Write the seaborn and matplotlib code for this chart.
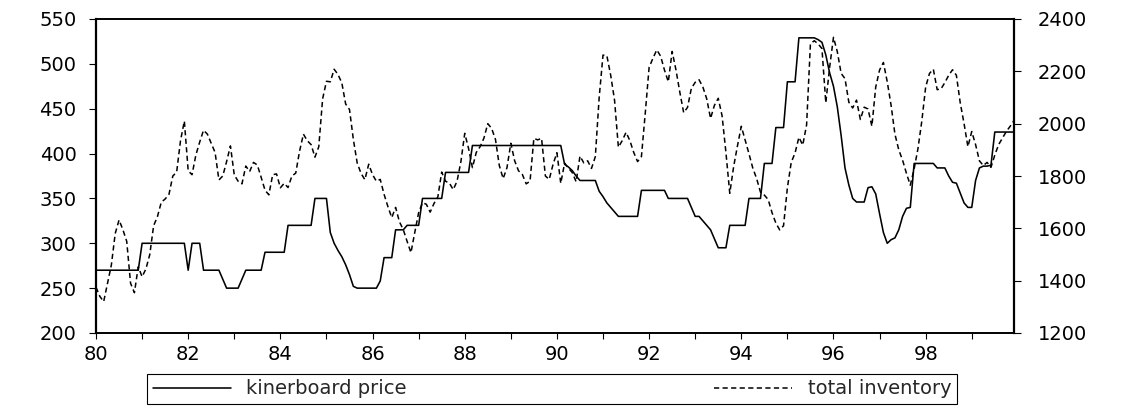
import numpy as np
import pandas as pd
import matplotlib
matplotlib.use("Agg")
import matplotlib.pyplot as plt
import seaborn as sns

# Monthly observations, 1980:01 - 1999:12
start_year = 1980

kinerboard_price = [
    270, 270, 270, 270, 270, 270, 270, 270, 270, 270, 270, 270,   # 1980
    300, 300, 300, 300, 300, 300, 300, 300, 300, 300, 300, 300,   # 1981
    270, 300, 300, 300, 270, 270, 270, 270, 270, 260, 250, 250,   # 1982
    250, 250, 260, 270, 270, 270, 270, 270, 290, 290, 290, 290,   # 1983
    290, 290, 320, 320, 320, 320, 320, 320, 320, 350, 350, 350,   # 1984
    350, 312, 300, 292, 285, 276, 265, 252, 250, 250, 250, 250,   # 1985
    250, 250, 258, 284, 284, 284, 315, 315, 315, 320, 320, 320,   # 1986
    320, 350, 350, 350, 350, 350, 350, 379, 379, 379, 379, 379,   # 1987
    379, 379, 409, 409, 409, 409, 409, 409, 409, 409, 409, 409,   # 1988
    409, 409, 409, 409, 409, 409, 409, 409, 409, 409, 409, 409,   # 1989
    409, 409, 388, 385, 381, 375, 370, 370, 370, 370, 370, 358,   # 1990
    352, 345, 340, 335, 330, 330, 330, 330, 330, 330, 359, 359,   # 1991
    359, 359, 359, 359, 359, 350, 350, 350, 350, 350, 350, 340,   # 1992
    330, 330, 325, 320, 315, 305, 295, 295, 295, 320, 320, 320,   # 1993
    320, 320, 350, 350, 350, 350, 389, 389, 389, 429, 429, 429,   # 1994
    480, 480, 480, 529, 529, 529, 529, 529, 527, 524, 510, 490,   # 1995
    475, 452, 420, 384, 365, 350, 346, 346, 346, 362, 363, 355,   # 1996
    333, 312, 300, 304, 306, 315, 330, 339, 340, 389, 389, 389,   # 1997
    389, 389, 389, 384, 384, 384, 375, 368, 367, 356, 345, 340,   # 1998
    340, 370, 384, 386, 386, 387, 424, 424, 424, 424, 424, 424,   # 1999
]

total_inventory = [
    1375, 1340, 1320, 1390, 1460, 1580, 1632, 1595, 1550, 1390, 1354, 1453,   # 1980
    1415, 1445, 1500, 1610, 1645, 1700, 1712, 1730, 1800, 1815, 1935, 2010,   # 1981
    1820, 1805, 1880, 1930, 1975, 1960, 1925, 1890, 1785, 1800, 1855, 1915,   # 1982
    1804, 1780, 1770, 1838, 1817, 1852, 1842, 1795, 1746, 1728, 1805, 1808,   # 1983
    1755, 1772, 1756, 1800, 1811, 1895, 1960, 1935, 1920, 1872, 1912, 2095,   # 1984
    2162, 2160, 2208, 2188, 2156, 2075, 2054, 1940, 1850, 1810, 1786, 1845,   # 1985
    1805, 1780, 1787, 1730, 1683, 1641, 1680, 1625, 1595, 1550, 1507, 1585,   # 1986
    1660, 1698, 1692, 1662, 1695, 1720, 1815, 1780, 1773, 1748, 1780, 1855,   # 1987
    1963, 1905, 1832, 1890, 1912, 1945, 2000, 1982, 1940, 1840, 1790, 1832,   # 1988
    1925, 1858, 1820, 1806, 1770, 1780, 1944, 1938, 1944, 1800, 1787, 1845,   # 1989
    1889, 1772, 1849, 1830, 1813, 1778, 1876, 1850, 1858, 1829, 1874, 2100,   # 1990
    2262, 2260, 2185, 2090, 1910, 1935, 1967, 1935, 1890, 1855, 1874, 2040,   # 1991
    2215, 2250, 2282, 2258, 2205, 2160, 2276, 2205, 2120, 2042, 2062, 2135,   # 1992
    2158, 2168, 2140, 2095, 2020, 2070, 2097, 2030, 1890, 1734, 1835, 1915,   # 1993
    1990, 1938, 1885, 1830, 1790, 1738, 1727, 1710, 1660, 1620, 1594, 1610,   # 1994
    1755, 1852, 1888, 1948, 1918, 1995, 2305, 2317, 2305, 2287, 2080, 2215,   # 1995
    2330, 2275, 2192, 2172, 2082, 2060, 2090, 2016, 2063, 2056, 1990, 2140,   # 1996
    2205, 2234, 2160, 2070, 1960, 1900, 1860, 1810, 1765, 1827, 1905, 2010,   # 1997
    2140, 2192, 2208, 2130, 2133, 2157, 2185, 2206, 2185, 2080, 2000, 1912,   # 1998
    1970, 1920, 1858, 1840, 1852, 1833, 1880, 1920, 1945, 1970, 1990, 2012,   # 1999
]

series_labels = ["kinerboard price", "total inventory"]
price_ticks = [200, 250, 300, 350, 400, 450, 500, 550]
inventory_ticks = [1200, 1400, 1600, 1800, 2000, 2200, 2400]
year_ticks = list(range(1980, 2000))
year_labels = [f"{y % 100:02d}" if y % 2 == 0 else "" for y in year_ticks]

months = np.arange(len(kinerboard_price))
df = pd.DataFrame({
    "t": start_year + months / 12.0,
    "price": kinerboard_price,
    "inventory": total_inventory,
})

sns.set_style("ticks")
plt.rcParams["font.family"] = ["DejaVu Sans"]

W, H = 1142, 407
fig = plt.figure(figsize=(W / 100, H / 100), dpi=100)
ax = fig.add_axes([96 / W, 1 - 333 / H, (1014 - 96) / W, (333 - 19) / H])
ax2 = ax.twinx()

sns.lineplot(data=df, x="t", y="price", ax=ax, color="black", linewidth=1.15,
             label=series_labels[0], legend=False)
sns.lineplot(data=df, x="t", y="inventory", ax=ax2, color="black", linewidth=1.1,
             linestyle=(0, (3.4, 2.2)), label=series_labels[1], legend=False)

ax.set_xlim(start_year, start_year + (len(months) - 1) / 12.0)
ax.set_ylim(200, 550)
ax2.set_ylim(1200, 2400)

ax.set_xticks(year_ticks)
ax.set_xticklabels(year_labels)
ax.set_yticks(price_ticks)
ax.set_yticklabels([str(v) for v in price_ticks])
ax2.set_yticks(inventory_ticks)
ax2.set_yticklabels([str(v) for v in inventory_ticks])

for a in (ax, ax2):
    a.set_xlabel("")
    a.set_ylabel("")
    for sp in a.spines.values():
        sp.set_visible(True)
        sp.set_color("black")
        sp.set_linewidth(1.2)
ax2.spines["left"].set_linewidth(1.6)
ax2.spines["right"].set_linewidth(1.6)

ax.tick_params(axis="y", direction="out", length=5, width=0.8, labelsize=14, pad=9, colors="black")
ax.tick_params(axis="x", direction="out", length=4.5, width=0.8, labelsize=14, pad=4, colors="black")
ax2.tick_params(axis="y", direction="out", length=5, width=0.8, labelsize=14, pad=12, colors="black")

handles = ax.get_lines()[:1] + ax2.get_lines()[:1]
leg = fig.legend(handles, series_labels, loc="center",
                 bbox_to_anchor=(147 / W, 2 / H, 810 / W, 32 / H), mode="expand",
                 ncol=2, frameon=True, fancybox=False, edgecolor="black",
                 fontsize=14, handlelength=4.0, borderaxespad=0, borderpad=0.3,
                 columnspacing=2.0, handletextpad=0.8, framealpha=1)
leg.get_frame().set_linewidth(0.8)

fig.savefig("out.png", dpi=100)
